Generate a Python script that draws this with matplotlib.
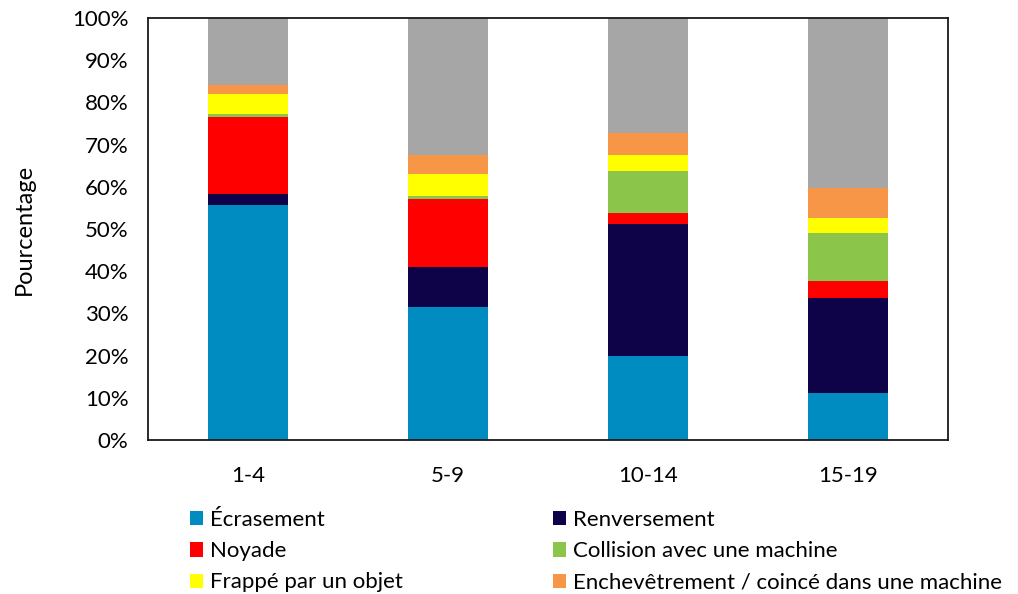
import numpy as np
import matplotlib
matplotlib.use("Agg")
import matplotlib.pyplot as plt
from matplotlib.patches import Patch

plt.rcParams['font.family'] = ['Lato', 'DejaVu Sans']

# --------------------
# Data (pourcentages par groupe d'âge)
# --------------------
age_groups = ["1-4", "5-9", "10-14", "15-19"]

ecrasement = [55.8, 31.4, 19.9, 11.1]
renversement = [2.4, 9.5, 31.4, 22.5]
noyade = [18.4, 16.1, 2.6, 4.1]
collision = [0.6, 0.9, 9.8, 11.3]
frappe = [4.8, 5.2, 3.9, 3.5]
enchevetrement = [2.2, 4.4, 5.1, 7.1]
autre = [15.8, 32.5, 27.3, 40.4]

series = [
    ("Écrasement", ecrasement, "#008cc1"),
    ("Renversement", renversement, "#0e0348"),
    ("Noyade", noyade, "#ff0000"),
    ("Collision avec une machine", collision, "#8bc64a"),
    ("Frappé par un objet", frappe, "#ffff00"),
    ("Enchevêtrement / coincé dans une machine", enchevetrement, "#f79646"),
    ("Autre", autre, "#a6a6a6"),
]

# --------------------
# Plot
# --------------------
fig = plt.figure(figsize=(10.18, 5.94), dpi=100)
ax = fig.add_axes([0.1454, 0.2593, 0.7854, 0.7104])

x = np.arange(len(age_groups))
bottom = np.zeros(len(age_groups))
for name, vals, color in series:
    ax.bar(x, vals, width=0.4, bottom=bottom, color=color, edgecolor="none")
    bottom += np.array(vals)

ax.set_xlim(-0.5, len(age_groups) - 0.5)
ax.set_ylim(0, 100)
ax.set_yticks(np.arange(0, 101, 10))
ax.set_yticklabels([f"{v}%" for v in range(0, 101, 10)], fontsize=16)
ax.set_xticks(x)
ax.set_xticklabels(age_groups, fontsize=16)
ax.tick_params(axis="y", length=0, pad=14)
ax.tick_params(axis="x", length=0, pad=19)
for s in ax.spines.values():
    s.set_linewidth(1.3)
    s.set_color("#1a1a1a")

ax.set_ylabel("Pourcentage", fontsize=17)
ax.yaxis.set_label_coords(-0.142, 0.5)

# Légende en deux colonnes, sans la série grise
left_col = [series[0], series[2], series[4]]
right_col = [series[1], series[3], series[5]]
for col, xpos in ((left_col, 0.1866), (right_col, 0.5432)):
    handles = [Patch(facecolor=c, label=n) for n, v, c in col]
    leg = fig.legend(handles=handles, loc="upper left",
                     bbox_to_anchor=(xpos, 0.141), frameon=False, fontsize=16,
                     handlelength=0.6, handleheight=0.6, handletextpad=0.3,
                     labelspacing=0.5, borderpad=0, borderaxespad=0)

fig.savefig("out.png", dpi=100)
